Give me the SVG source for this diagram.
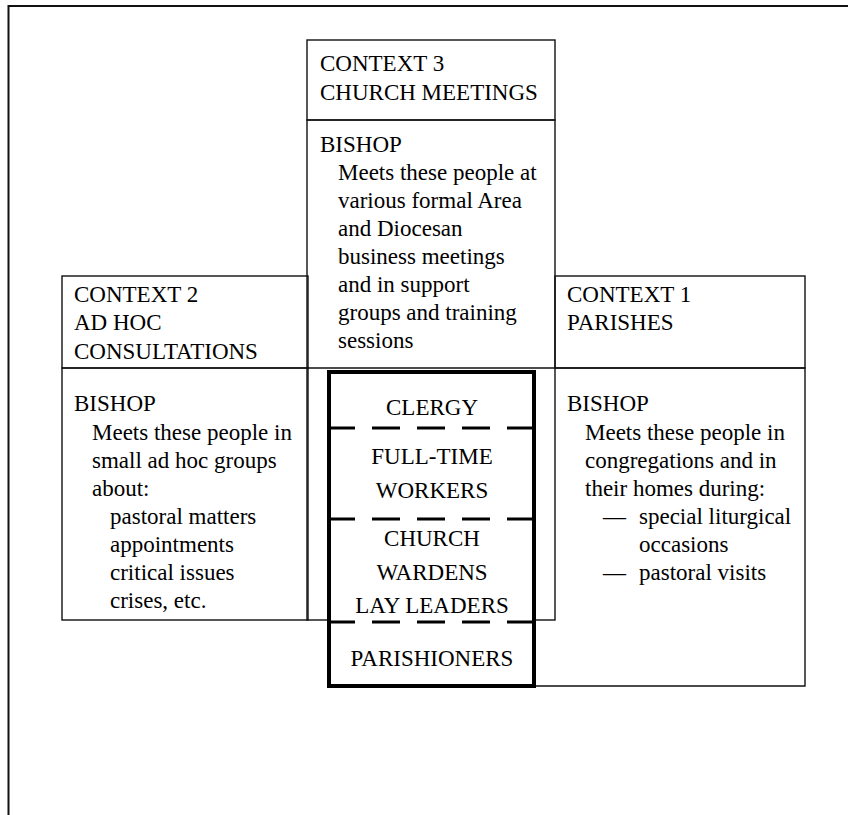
<svg xmlns="http://www.w3.org/2000/svg" width="848" height="815" viewBox="0 0 848 815">
<style>
text{font-family:"Liberation Serif","Times New Roman",serif;font-size:23px;fill:#000}
.c{text-anchor:middle}
.box{fill:none;stroke:#111;stroke-width:1.4}
.frame{fill:none;stroke:#111;stroke-width:2}
.bold{fill:#fff;stroke:#000;stroke-width:4}
.dash{fill:none;stroke:#000;stroke-width:3;stroke-dasharray:28 17}
</style>
<rect width="848" height="815" fill="#fff"/>
<g id="frame">
<line class="frame" x1="8" y1="6" x2="848" y2="6"/>
<line class="frame" x1="8.5" y1="5" x2="8.5" y2="815"/>
</g>
<g id="context3">
<rect class="box" x="307" y="40" width="248" height="80"/>
<rect class="box" x="307" y="120" width="248" height="500"/>
<text x="320" y="71">CONTEXT 3</text>
<text x="320" y="100">CHURCH MEETINGS</text>
<text x="320" y="152">BISHOP</text>
<text x="338" y="180">Meets these people at</text>
<text x="338" y="208">various formal Area</text>
<text x="338" y="236">and Diocesan</text>
<text x="338" y="264">business meetings</text>
<text x="338" y="292">and in support</text>
<text x="338" y="320">groups and training</text>
<text x="338" y="348">sessions</text>
</g>
<g id="context2">
<rect class="box" x="62" y="276" width="246" height="92"/>
<rect class="box" x="62" y="368" width="246" height="252"/>
<text x="74" y="302">CONTEXT 2</text>
<text x="74" y="330">AD HOC</text>
<text x="74" y="359">CONSULTATIONS</text>
<text x="74" y="411">BISHOP</text>
<text x="92" y="440">Meets these people in</text>
<text x="92" y="468">small ad hoc groups</text>
<text x="92" y="496">about:</text>
<text x="110" y="524">pastoral matters</text>
<text x="110" y="552">appointments</text>
<text x="110" y="580">critical issues</text>
<text x="110" y="608">crises, etc.</text>
</g>
<g id="context1">
<rect class="box" x="555" y="276" width="250" height="92"/>
<polyline class="box" points="555,368 805,368 805,686 534,686"/>
<line class="box" x1="307" y1="368" x2="555" y2="368"/>
<text x="567" y="302">CONTEXT 1</text>
<text x="567" y="330">PARISHES</text>
<text x="567" y="411">BISHOP</text>
<text x="585" y="440">Meets these people in</text>
<text x="585" y="468">congregations and in</text>
<text x="585" y="496">their homes during:</text>
<text x="603" y="524">—</text>
<text x="639" y="524">special liturgical</text>
<text x="639" y="552">occasions</text>
<text x="603" y="580">—</text>
<text x="639" y="580">pastoral visits</text>
</g>
<g id="people">
<rect class="bold" x="329" y="372" width="205" height="314"/>
<text class="c" x="432" y="415">CLERGY</text>
<text class="c" x="432" y="464">FULL-TIME</text>
<text class="c" x="432" y="498">WORKERS</text>
<text class="c" x="432" y="546">CHURCH</text>
<text class="c" x="432" y="580">WARDENS</text>
<text class="c" x="432" y="613">LAY LEADERS</text>
<text class="c" x="432" y="666">PARISHIONERS</text>
</g>
<g id="connectors">
<line class="dash" x1="327" y1="428" x2="534" y2="428"/>
<line class="dash" x1="327" y1="519" x2="534" y2="519"/>
<line class="dash" x1="327" y1="622" x2="534" y2="622"/>
</g>
</svg>
